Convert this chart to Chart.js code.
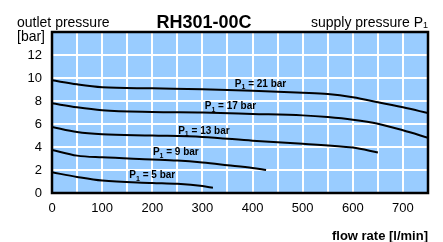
<!DOCTYPE html>
<html><head><meta charset="utf-8">
<script src="https://cdn.jsdelivr.net/npm/chart.js@4/dist/chart.umd.min.js"></script>
<style>html,body{margin:0;padding:0;background:#fff}</style>
</head><body><canvas id="c" width="443" height="242"></canvas>
<script>
// ---- data ----
const flow21 = [0, 50, 100, 200, 300, 400, 500, 550, 600, 650, 700, 750];
const out21  = [9.8, 9.45, 9.2, 9.1, 9.02, 8.9, 8.72, 8.6, 8.32, 7.9, 7.45, 6.95];
const flow17 = [0, 50, 100, 200, 300, 400, 500, 550, 600, 650, 700, 750];
const out17  = [7.8, 7.45, 7.2, 7.05, 7.0, 6.88, 6.75, 6.6, 6.37, 6.02, 5.45, 4.8];
const flow13 = [0, 50, 100, 200, 300, 400, 500, 600, 650];
const out13  = [5.75, 5.3, 5.1, 5.0, 4.88, 4.55, 4.28, 3.95, 3.52];
const flow9  = [0, 50, 100, 200, 250, 300, 350, 400, 427];
const out9   = [3.75, 3.25, 3.1, 2.92, 2.82, 2.65, 2.42, 2.18, 2.0];
const flow5  = [0, 50, 100, 200, 250, 300, 321];
const out5   = [1.8, 1.4, 1.08, 0.88, 0.8, 0.6, 0.45];
const supplyPressures = ['21', '17', '13', '9', '5'];
const labelFlow = [416, 356, 303, 247, 200];
const labelOut  = [9.54, 7.6, 5.45, 3.58, 1.57];
const chartTitle = 'RH301-00C';
const yTitle1 = 'outlet pressure';
const yTitle2 = '[bar]';
const legendTitle = 'supply pressure P';
const xTitle = 'flow rate [l/min]';

const flows = [flow21, flow17, flow13, flow9, flow5];
const outs = [out21, out17, out13, out9, out5];
const FONT = '"Liberation Sans", Arial, sans-serif';

const datasets = flows.map((f, i) => ({
  label: 'P1 = ' + supplyPressures[i] + ' bar',
  data: f.map((x, j) => ({x: x, y: outs[i][j]})),
  borderColor: '#000',
  borderWidth: 2,
  pointRadius: 0,
  fill: false,
  cubicInterpolationMode: 'monotone'
}));

const deco = {
  id: 'deco',
  beforeDraw(chart) {
    const {ctx, chartArea: a} = chart;
    ctx.save();
    ctx.fillStyle = '#99ccff';
    ctx.fillRect(a.left, a.top, a.right - a.left, a.bottom - a.top);
    ctx.restore();
  },
  afterDraw(chart) {
    const {ctx, chartArea: a, scales} = chart;
    ctx.save();
    ctx.strokeStyle = '#000';
    ctx.lineWidth = 2.5;
    ctx.strokeRect(a.left, a.top, a.right - a.left, a.bottom - a.top);
    ctx.fillStyle = '#000';
    ctx.textBaseline = 'alphabetic';
    // header texts
    ctx.font = '14px ' + FONT;
    ctx.textAlign = 'left';
    ctx.fillText(yTitle1, 17, 27);
    ctx.fillText(yTitle2, 17, 41);
    ctx.font = 'bold 18px ' + FONT;
    ctx.textAlign = 'center';
    ctx.fillText(chartTitle, 204, 28);
    // legend title with subscript 1
    ctx.font = '9px ' + FONT;
    const w1 = ctx.measureText('1').width;
    ctx.textAlign = 'right';
    ctx.fillText('1', 428, 28);
    ctx.font = '14px ' + FONT;
    ctx.fillText(legendTitle, 428 - w1, 27);
    ctx.font = 'bold 13px ' + FONT;
    ctx.fillText(xTitle, 428, 240);
    // curve labels
    supplyPressures.forEach((p, i) => {
      const cx = scales.x.getPixelForValue(labelFlow[i]);
      const cy = scales.y.getPixelForValue(labelOut[i]);
      ctx.font = 'bold 10px ' + FONT;
      const wP = ctx.measureText('P').width;
      const rest = ' = ' + p + ' bar';
      const wR = ctx.measureText(rest).width;
      ctx.font = 'bold 7px ' + FONT;
      const wS = ctx.measureText('1').width;
      const total = wP + wS + wR;
      let x0 = cx - total / 2;
      const base = cy + 3.5;
      ctx.textAlign = 'left';
      ctx.font = 'bold 10px ' + FONT;
      ctx.fillText('P', x0, base);
      ctx.font = 'bold 7px ' + FONT;
      ctx.fillText('1', x0 + wP, base + 2.5);
      ctx.font = 'bold 10px ' + FONT;
      ctx.fillText(rest, x0 + wP + wS, base);
    });
    ctx.restore();
  }
};

new Chart(document.getElementById('c'), {
  type: 'line',
  data: {datasets},
  options: {
    responsive: false,
    devicePixelRatio: 1,
    animation: false,
    layout: {padding: {top: 32, right: 15, left: 0, bottom: 0}},
    plugins: {legend: {display: false}, tooltip: {enabled: false}, title: {display: false}},
    scales: {
      x: {
        type: 'linear', min: 0, max: 750,
        afterFit(s) { s.height = 49; },
        ticks: {stepSize: 50, color: '#000', padding: 8, maxRotation: 0, autoSkip: false,
          font: {family: FONT, size: 13},
          callback: v => (v % 100 === 0 && v <= 700) ? String(v) : ''},
        grid: {color: '#fff', lineWidth: 2, drawTicks: false},
        border: {display: false}
      },
      y: {
        type: 'linear', min: 0, max: 14,
        afterFit(s) { s.width = 52; },
        ticks: {stepSize: 2, color: '#000', padding: 10,
          font: {family: FONT, size: 13},
          callback: v => v <= 12 ? String(v) : ''},
        grid: {color: '#fff', lineWidth: 2, drawTicks: false},
        border: {display: false}
      }
    }
  },
  plugins: [deco]
});
</script>
</body></html>
